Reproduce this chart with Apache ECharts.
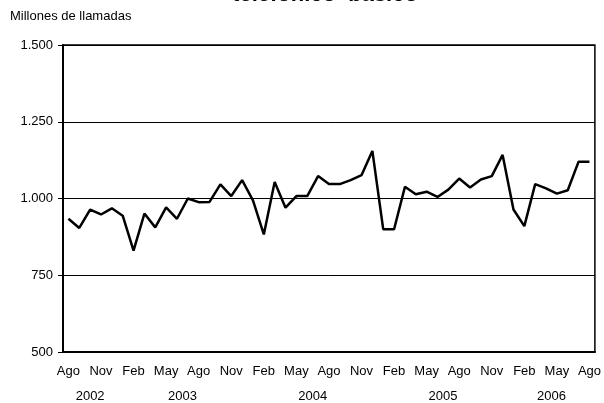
<!DOCTYPE html>
<html>
<head>
<meta charset="utf-8">
<script src="https://cdn.jsdelivr.net/npm/echarts@6/dist/echarts.min.js"></script>
<style>html,body{margin:0;padding:0;background:#fff}#c{width:604px;height:403px}</style>
</head>
<body>
<div id="c"></div>
<script>
const months = ['Ago','Sep','Oct','Nov','Dic','Ene','Feb','Mar','Abr','May','Jun','Jul'];
const startYear = 2002;
const categories = [];
for (let i = 0; i < 49; i++) {
  const m = months[i % 12];
  const y = startYear + Math.floor((i + 7) / 12);
  categories.push(m + ' ' + y);
}
const values = [934, 904, 964, 948, 968, 944, 830, 951, 906, 971, 934, 1000,
  988, 989, 1046, 1008, 1060, 994, 883, 1054, 970, 1008, 1008, 1073,
  1047, 1047, 1060, 1076, 1155, 900, 900, 1038, 1014, 1022, 1005, 1029,
  1065, 1036, 1062, 1073, 1142, 964, 910, 1047, 1033, 1016, 1027, 1120, 1120];
const yTicks = [500, 750, 1000, 1250, 1500];
const years = ['2002', '2003', '2004', '2005', '2006'];

// centre of each year's span of months, in category index units
const yearCenter = {};
years.forEach(yr => {
  const idx = categories.map((c, i) => c.endsWith(yr) ? i : -1).filter(i => i >= 0);
  yearCenter[(idx[0] + idx[idx.length - 1]) / 2] = yr;
});

const fmt = v => v >= 1000 ? Math.floor(v / 1000) + '.' + String(v % 1000).padStart(3, '0') : String(v);
const font = 'Liberation Sans, Arial, sans-serif';

const chart = echarts.init(document.getElementById('c'));
chart.setOption({
  animation: false,
  title: [
    {text: 'telefónico  básico', left: 320, textAlign: 'center', top: -21,
     textStyle: {fontFamily: font, fontSize: 22, fontWeight: 'bold', color: '#000'}},
    {text: 'Millones de llamadas', left: 5, top: 5,
     textStyle: {fontFamily: font, fontSize: 13, fontWeight: 'normal', color: '#000'}}
  ],
  grid: {left: 63, right: 7, top: 45, bottom: 50.5, show: true, borderColor: '#000', borderWidth: 1.5},
  xAxis: [{
    type: 'category', data: categories, boundaryGap: true,
    axisLine: {onZero: false, lineStyle: {color: '#000', width: 2}},
    axisTick: {show: false},
    axisLabel: {interval: 2, margin: 13, color: '#000', fontFamily: font, fontSize: 13,
      formatter: v => v.split(' ')[0]}
  }, {
    type: 'value', min: -0.5, max: categories.length - 0.5, interval: 0.5,
    position: 'bottom', offset: 25,
    axisLine: {show: false, onZero: false}, axisTick: {show: false}, splitLine: {show: false},
    axisLabel: {margin: 13, color: '#000', fontFamily: font, fontSize: 13, hideOverlap: false,
      showMinLabel: true, showMaxLabel: true,
      formatter: v => yearCenter[v] || ''}
  }],
  yAxis: {
    type: 'value', min: yTicks[0], max: yTicks[yTicks.length - 1], interval: 250,
    axisLine: {show: true, onZero: false, lineStyle: {color: '#000', width: 2}},
    axisTick: {show: true, length: 5, lineStyle: {color: '#000'}},
    axisLabel: {margin: 10, color: '#000', fontFamily: font, fontSize: 13, formatter: fmt},
    splitLine: {lineStyle: {color: '#000', width: 1}}
  },
  series: [{
    type: 'line', data: values, xAxisIndex: 0, showSymbol: false, symbol: 'none',
    lineStyle: {color: '#000', width: 2.5}
  }]
});
</script>
</body>
</html>
